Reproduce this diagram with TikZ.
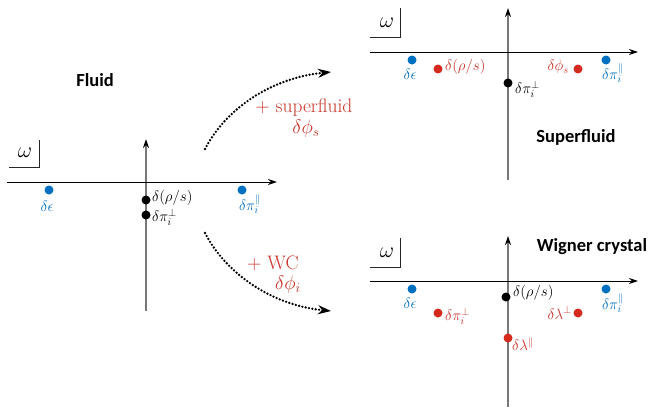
\RequirePackage{fix-cm}
\documentclass[tikz,border=0pt]{standalone}
\usepackage{fontspec}
\newfontfamily\labfont{Carlito}
\usetikzlibrary{arrows.meta}
\definecolor{myblue}{RGB}{0,112,192}
\definecolor{myred}{RGB}{213,43,30}
\definecolor{redtext}{RGB}{200,50,40}
\definecolor{axgray}{RGB}{120,120,120}
\begin{document}
\begin{tikzpicture}[x=1pt,y=-1pt,
  haxis/.style={line width=1pt,-{Stealth[length=9pt,width=6pt]}},
  vaxis/.style={line width=1.3pt,axgray,-{Stealth[length=9pt,width=6pt,black]}},
  omline/.style={line width=0.9pt,black!85},
  dotm/.style={circle,fill,inner sep=0pt,minimum size=9pt},
  bdot/.style={dotm,fill=myblue},
  rdot/.style={dotm,fill=myred},
  kdot/.style={dotm,fill=black},
  mlab/.style={inner sep=0pt,font=\fontsize{15}{18}\selectfont},
  omlab/.style={inner sep=0pt,font=\fontsize{22}{26}\selectfont},
  title/.style={inner sep=0pt,font=\labfont\bfseries\fontsize{18.5}{22}\selectfont},
  arlab/.style={inner sep=0pt,text=redtext,font=\fontsize{19.5}{22}\selectfont},
  flow/.style={line width=2.6pt,line cap=round,dash pattern=on 0pt off 3.4pt,
    -{Stealth[length=13pt,width=9pt,line cap=butt]}}]
\useasboundingbox (0,0) rectangle (650,407);

% ---------- Left panel: Fluid ----------
\coordinate (L-xs) at (7,182);
\coordinate (L-xe) at (277,182);
\coordinate (L-ys) at (146,311);
\coordinate (L-ye) at (146,139);
\draw[vaxis] (L-ys) -- (L-ye);
\draw[haxis] (L-xs) -- (L-xe);
\node[omlab] (L-om) at (25,153) {$\omega$};
\coordinate (L-b1) at (39,140);
\coordinate (L-b2) at (39,167);
\coordinate (L-b3) at (9,167);
\draw[omline] (L-b1) -- (L-b2) -- (L-b3);
\node[title] (L-title) at (95,80) {Fluid};
\node[bdot] (L-eps) at (49,190) {};
\node[mlab,text=myblue] (L-epsl) at (47,206) {$\delta\epsilon$};
\node[bdot] (L-pipar) at (242,190) {};
\node[mlab,text=myblue] (L-piparl) at (250,204) {$\delta\pi_i^{\parallel}$};
\node[kdot] (L-rs) at (146,200) {};
\node[mlab,anchor=west] (L-rsl) at (152,198) {$\delta(\rho/s)$};
\node[kdot] (L-piperp) at (146,215) {};
\node[mlab,anchor=west] (L-piperpl) at (152,217) {$\delta\pi_i^{\perp}$};

% ---------- Top right panel: Superfluid ----------
\coordinate (S-xs) at (370,52);
\coordinate (S-xe) at (638,52);
\coordinate (S-ys) at (508,180);
\coordinate (S-ye) at (508,8);
\draw[vaxis] (S-ys) -- (S-ye);
\draw[haxis] (S-xs) -- (S-xe);
\node[omlab] (S-om) at (387,23) {$\omega$};
\coordinate (S-b1) at (400,8);
\coordinate (S-b2) at (400,37);
\coordinate (S-b3) at (370,37);
\draw[omline] (S-b1) -- (S-b2) -- (S-b3);
\node[title] (S-title) at (576,137) {Superfluid};
\node[bdot] (S-eps) at (412,60) {};
\node[mlab,text=myblue] (S-epsl) at (410,74) {$\delta\epsilon$};
\node[rdot] (S-rs) at (438,69) {};
\node[mlab,anchor=west,text=redtext] (S-rsl) at (445,67) {$\delta(\rho/s)$};
\node[rdot] (S-phi) at (578,69) {};
\node[mlab,anchor=east,text=redtext] (S-phil) at (569,67) {$\delta\phi_s$};
\node[bdot] (S-pipar) at (606,60) {};
\node[mlab,text=myblue] (S-piparl) at (613,73) {$\delta\pi_i^{\parallel}$};
\node[kdot] (S-piperp) at (508,83) {};
\node[mlab,anchor=west] (S-piperpl) at (515,89) {$\delta\pi_i^{\perp}$};

% ---------- Bottom right panel: Wigner crystal ----------
\coordinate (W-xs) at (370,281);
\coordinate (W-xe) at (638,281);
\coordinate (W-ys) at (508,407);
\coordinate (W-ye) at (508,236);
\draw[vaxis] (W-ys) -- (W-ye);
\draw[haxis] (W-xs) -- (W-xe);
\node[omlab] (W-om) at (387,253) {$\omega$};
\coordinate (W-b1) at (400,238);
\coordinate (W-b2) at (400,267);
\coordinate (W-b3) at (370,267);
\draw[omline] (W-b1) -- (W-b2) -- (W-b3);
\node[title] (W-title) at (592,247) {Wigner crystal};
\node[bdot] (W-eps) at (412,289) {};
\node[mlab,text=myblue] (W-epsl) at (410,303) {$\delta\epsilon$};
\node[kdot] (W-rs) at (506,297) {};
\node[mlab,anchor=west] (W-rsl) at (513,293) {$\delta(\rho/s)$};
\node[bdot] (W-pipar) at (606,289) {};
\node[mlab,text=myblue] (W-piparl) at (613,303) {$\delta\pi_i^{\parallel}$};
\node[rdot] (W-piperp) at (438,313) {};
\node[mlab,anchor=west,text=redtext] (W-piperpl) at (445,316) {$\delta\pi_i^{\perp}$};
\node[rdot] (W-lperp) at (578,313) {};
\node[mlab,anchor=east,text=redtext] (W-lperpl) at (572,313) {$\delta\lambda^{\perp}$};
\node[rdot] (W-lpar) at (508,338) {};
\node[mlab,anchor=west,text=redtext] (W-lparl) at (512,344) {$\delta\lambda^{\parallel}$};

% ---------- Transition arrows ----------
\coordinate (A1s) at (205,149);
\coordinate (A1e) at (331,72);
\draw[flow] (A1s) .. controls (225,110) and (270,78) .. (A1e);
\node[arlab] (A1l) at (304,108) {$+$ superfluid};
\node[arlab] (A1m) at (306,129) {$\delta\phi_s$};

\coordinate (A2s) at (205,233);
\coordinate (A2e) at (331,311);
\draw[flow] (A2s) .. controls (225,272) and (270,305) .. (A2e);
\node[arlab] (A2l) at (273,263) {$+$ WC};
\node[arlab] (A2m) at (288,285) {$\delta\phi_i$};
\end{tikzpicture}
\end{document}
